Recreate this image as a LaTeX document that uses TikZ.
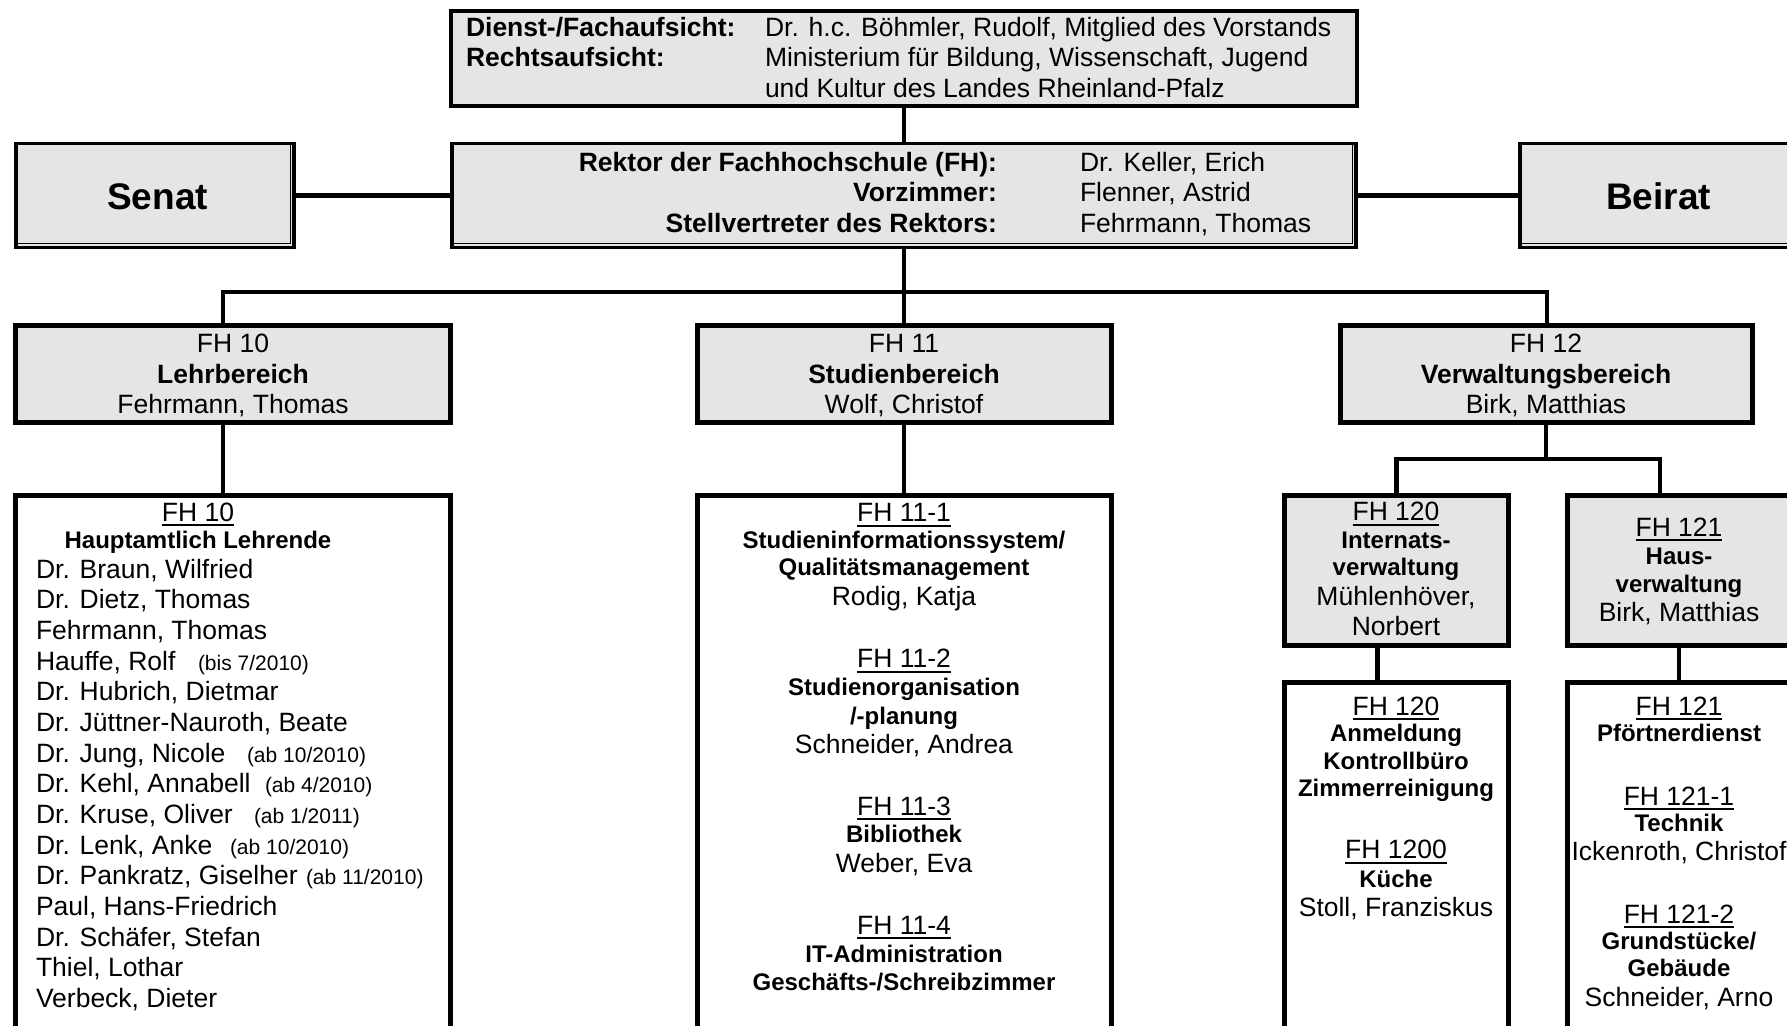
\documentclass[tikz,border=0pt]{standalone}
\usepackage{fontspec}
\setmainfont{Liberation Sans}
\definecolor{boxgray}{RGB}{229,229,229}
\newcommand\fr{\fontsize{13.25}{15.3}\selectfont}
\newcommand\fbs{\fontsize{12}{14}\selectfont\bfseries}
\newcommand\fbr{\fontsize{13.25}{15.3}\selectfont\bfseries}
\newcommand\fsm{\fontsize{10.5}{12}\selectfont}
\newcommand\fbig{\fontsize{18.5}{22}\selectfont\bfseries}
\newcommand\ulx[1]{\leavevmode\setbox0\hbox{#1}\rlap{\rule[-2.5pt]{\wd0}{0.8pt}}\box0}
\begin{document}
\begin{tikzpicture}[x=0.5pt,y=-0.5pt,
  grayhdr/.style={draw, line width=2.5pt, fill=boxgray, inner sep=0, outer sep=0},
  listbox/.style={draw, line width=2.5pt, fill=white, inner sep=0, outer sep=0},
  topbox/.style={draw, line width=2.2pt, fill=boxgray, inner sep=0, outer sep=0},
  dblbox/.style={draw, line width=1.7pt, fill=boxgray, inner sep=0, outer sep=0},
  innerline/.style={line width=0.6pt},
  conn/.style={line width=2.3pt},
  tc/.style={inner sep=0, outer sep=0, anchor=base},
  tl/.style={inner sep=0, outer sep=0, anchor=base west},
  tr/.style={inner sep=0, outer sep=0, anchor=base east}]
\useasboundingbox (0,0) rectangle (1787,1026);
\fill[white] (0,0) rectangle (1787,1026);

% boxes
\node[topbox, minimum width=453pt, minimum height=47.5pt] (aufsicht) at (904,58.5) {};
\node[dblbox, minimum width=452pt, minimum height=52pt] (rektor) at (904,195.5) {};
\node[dblbox, minimum width=139pt, minimum height=52pt] (senat) at (155,195.5) {};
\node[dblbox, minimum width=139.5pt, minimum height=52pt] (beirat) at (1659.5,195.5) {};
\foreach \b in {senat, rektor, beirat}{
  \draw[innerline] ([shift={(0.9pt,1.9pt)}]\b.south west) -- ([shift={(-1.9pt,1.9pt)}]\b.south east)
    -- ([shift={(-1.9pt,-0.9pt)}]\b.north east);
}
\node[grayhdr, minimum width=217.5pt, minimum height=48pt] (fh10) at (232.5,374) {};
\node[grayhdr, minimum width=207pt, minimum height=48pt] (fh11) at (904,374) {};
\node[grayhdr, minimum width=206pt, minimum height=48pt] (fh12) at (1546,374) {};
\node[listbox, minimum width=217.5pt, minimum height=275pt] (fh10l) at (232.5,770) {};
\node[listbox, minimum width=207pt, minimum height=275pt] (fh11l) at (904,770) {};
\node[grayhdr, minimum width=112pt, minimum height=75pt] (fh120) at (1396,570) {};
\node[grayhdr, minimum width=112pt, minimum height=75pt] (fh121) at (1679,570) {};
\node[listbox, minimum width=112pt, minimum height=181.5pt] (fh120l) at (1396,863.5) {};
\node[listbox, minimum width=112pt, minimum height=181.5pt] (fh121l) at (1679,863.5) {};

% connector points
\coordinate (b10) at (223,292);
\coordinate (b12) at (1547,292);
\coordinate (s120) at (1396.5,459);
\coordinate (s121) at (1660,459);
\coordinate (d120) at (1377.5,660);
\coordinate (d121) at (1679,660);

% connectors
\draw[conn] (aufsicht.south) -- (rektor.north);
\draw[conn] (senat.east) -- (rektor.west);
\draw[conn] (rektor.east) -- (beirat.west);
\draw[conn] (rektor.south) -- (fh11.north);
\draw[conn] (b10 |- fh10.north) -- (b10) -- (b12) -- (b12 |- fh12.north);
\draw[conn] (fh10.south -| b10) -- (fh10l.north -| b10);
\draw[conn] (fh11.south) -- (fh11l.north);
\draw[conn] (fh12.south) -- (fh12.south |- s120);
\draw[conn] (s120 |- fh120.north) -- (s120) -- (s121) -- (s121 |- fh121.north);
\draw[conn] (fh120.south -| d120) -- (fh120l.north -| d120);
\draw[conn] (fh121.south -| d121) -- (fh121l.north -| d121);

% top box text
\node[tl] (a1) at (466,36.5) {\fbr Dienst-/Fachaufsicht:};
\node[tl] (a2) at (466,67) {\fbr Rechtsaufsicht:};
\node[tl] (a3) at (765,36.5) {\fr Dr. h.c. Böhmler, Rudolf, Mitglied des Vorstands};
\node[tl] (a4) at (765,67) {\fr Ministerium für Bildung, Wissenschaft, Jugend};
\node[tl] (a5) at (765,97.5) {\fr und Kultur des Landes Rheinland-Pfalz};

% Rektor text
\node[tr] (r1) at (997,171.5) {\fbr Rektor der Fachhochschule (FH):};
\node[tr] (r2) at (997,202) {\fbr Vorzimmer:};
\node[tr] (r3) at (997,232.5) {\fbr Stellvertreter des Rektors:};
\node[tl] (r4) at (1080,171.5) {\fr Dr. Keller, Erich};
\node[tl] (r5) at (1080,202) {\fr Flenner, Astrid};
\node[tl] (r6) at (1080,232.5) {\fr Fehrmann, Thomas};

\node[tc] (sn) at (157.6,209.5) {\fbig Senat};
\node[tc] (br) at (1658.6,209.5) {\fbig Beirat};

% headers
\node[tc] (h10a) at (233,353) {\fr FH 10};
\node[tc] (h10b) at (233,383.5) {\fbr Lehrbereich};
\node[tc] (h10c) at (233,414) {\fr Fehrmann, Thomas};
\node[tc] (h11a) at (904,353) {\fr FH 11};
\node[tc] (h11b) at (904,383.5) {\fbr Studienbereich};
\node[tc] (h11c) at (904,414) {\fr Wolf, Christof};
\node[tc] (h12a) at (1546,353) {\fr FH 12};
\node[tc] (h12b) at (1546,383.5) {\fbr Verwaltungsbereich};
\node[tc] (h12c) at (1546,414) {\fr Birk, Matthias};

% FH 10 list
\node[tc] (l10a) at (198,521) {\fr\ulx{FH 10}};
\node[tc] (l10b) at (198,548.3) {\fbs Hauptamtlich Lehrende};
\node[tl] (n0) at (36,578.3) {\fr Dr. Braun, Wilfried};
\node[tl] (n1) at (36,608.9) {\fr Dr. Dietz, Thomas};
\node[tl] (n2) at (36,639.6) {\fr Fehrmann, Thomas};
\node[tl] (n3) at (36,670.2) {\fr\makebox[81pt][l]{Hauffe, Rolf}\fsm(bis 7/2010)};
\node[tl] (n4) at (36,700.9) {\fr Dr. Hubrich, Dietmar};
\node[tl] (n5) at (36,731.5) {\fr Dr. Jüttner-Nauroth, Beate};
\node[tl] (n6) at (36,762.1) {\fr\makebox[105.5pt][l]{Dr. Jung, Nicole}\fsm(ab 10/2010)};
\node[tl] (n7) at (36,792.8) {\fr\makebox[114.5pt][l]{Dr. Kehl, Annabell}\fsm(ab 4/2010)};
\node[tl] (n8) at (36,823.4) {\fr\makebox[109pt][l]{Dr. Kruse, Oliver}\fsm(ab 1/2011)};
\node[tl] (n9) at (36,854.1) {\fr\makebox[97pt][l]{Dr. Lenk, Anke}\fsm(ab 10/2010)};
\node[tl] (n10) at (36,884.7) {\fr\makebox[135pt][l]{Dr. Pankratz, Giselher}\fsm(ab 11/2010)};
\node[tl] (n11) at (36,915.3) {\fr Paul, Hans-Friedrich};
\node[tl] (n12) at (36,946.0) {\fr Dr. Schäfer, Stefan};
\node[tl] (n13) at (36,976.6) {\fr Thiel, Lothar};
\node[tl] (n14) at (36,1007.3) {\fr Verbeck, Dieter};

% FH 11 list
\node[tc] (m1) at (904,521.5) {\fr\ulx{FH 11-1}};
\node[tc] (m2) at (904,548) {\fbs Studieninformationssystem/};
\node[tc] (m3) at (904,575) {\fbs Qualitätsmanagement};
\node[tc] (m4) at (904,605.5) {\fr Rodig, Katja};
\node[tc] (m5) at (904,667.5) {\fr\ulx{FH 11-2}};
\node[tc] (m6) at (904,695) {\fbs Studienorganisation};
\node[tc] (m7) at (904,724) {\fbs /-planung};
\node[tc] (m8) at (904,753) {\fr Schneider, Andrea};
\node[tc] (m9) at (904,815) {\fr\ulx{FH 11-3}};
\node[tc] (m10) at (904,842.5) {\fbs Bibliothek};
\node[tc] (m11) at (904,872.5) {\fr Weber, Eva};
\node[tc] (m12) at (904,934) {\fr\ulx{FH 11-4}};
\node[tc] (m13) at (904,962.5) {\fbs IT-Administration};
\node[tc] (m14) at (904,990) {\fbs Geschäfts-/Schreibzimmer};

% FH 120 header
\node[tc] (p1) at (1396,520.7) {\fr\ulx{FH 120}};
\node[tc] (p2) at (1396,548.3) {\fbs Internats-};
\node[tc] (p3) at (1396,575) {\fbs verwaltung};
\node[tc] (p4) at (1396,605.5) {\fr Mühlenhöver,};
\node[tc] (p5) at (1396,635.5) {\fr Norbert};

% FH 121 header
\node[tc] (q1) at (1679,536) {\fr\ulx{FH 121}};
\node[tc] (q2) at (1679,564.5) {\fbs Haus-};
\node[tc] (q3) at (1679,592) {\fbs verwaltung};
\node[tc] (q4) at (1679,621) {\fr Birk, Matthias};

% FH 120 list
\node[tc] (u1) at (1396,715) {\fr\ulx{FH 120}};
\node[tc] (u2) at (1396,741.5) {\fbs Anmeldung};
\node[tc] (u3) at (1396,769.5) {\fbs Kontrollbüro};
\node[tc] (u4) at (1396,796.5) {\fbs Zimmerreinigung};
\node[tc] (u5) at (1396,858.5) {\fr\ulx{FH 1200}};
\node[tc] (u6) at (1396,887) {\fbs Küche};
\node[tc] (u7) at (1396,916.5) {\fr Stoll, Franziskus};

% FH 121 list
\node[tc] (v1) at (1679,715) {\fr\ulx{FH 121}};
\node[tc] (v2) at (1679,741.7) {\fbs Pförtnerdienst};
\node[tc] (v3) at (1679,805) {\fr\ulx{FH 121-1}};
\node[tc] (v4) at (1679,831.5) {\fbs Technik};
\node[tc] (v5) at (1679,860.7) {\fr Ickenroth, Christof};
\node[tc] (v6) at (1679,923) {\fr\ulx{FH 121-2}};
\node[tc] (v7) at (1679,949.5) {\fbs Grundstücke/};
\node[tc] (v8) at (1679,976.7) {\fbs Gebäude};
\node[tc] (v9) at (1679,1006.5) {\fr Schneider, Arno};
\end{tikzpicture}
\end{document}
